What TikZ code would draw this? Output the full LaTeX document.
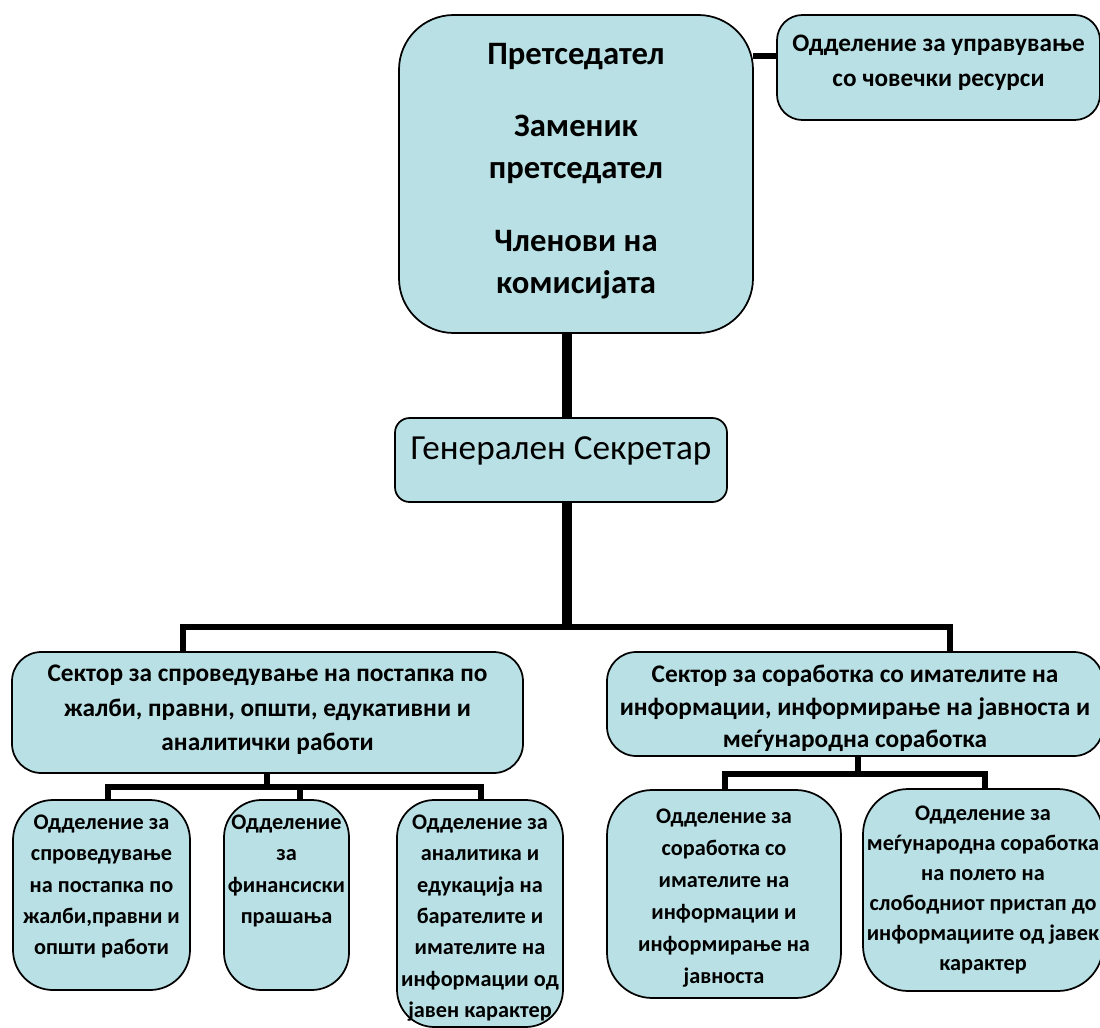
\documentclass[tikz,border=0pt]{standalone}
\usepackage{fontspec}
\setmainfont{Carlito}
\newlength\px \setlength\px{0.75pt}
\definecolor{boxfill}{HTML}{B9E0E4}
\newcommand\bxt[4]{\parbox[c][#2\px][t]{#1\px}{\centering\vspace*{#3\px}#4\par}}
\newcommand\fTop{\fontsize{24.5pt}{31.5pt}\selectfont\bfseries}
\newcommand\fHr{\fontsize{18.9pt}{26pt}\selectfont\bfseries}
\newcommand\fGs{\fontsize{26.4pt}{30pt}\selectfont}
\newcommand\fSec{\fontsize{19pt}{26pt}\selectfont\bfseries}
\newcommand\fSm{\fontsize{16.7pt}{23.5pt}\selectfont\bfseries}
\tikzset{
  box/.style={draw=black, line width=1.3pt, fill=boxfill, rounded corners=#1,
    inner sep=0pt, outer sep=0pt, anchor=north west, shape=rectangle},
  box/.default=15pt,
  trunk/.style={line width=7.5pt, draw=black},
  link/.style={line width=4.6pt, draw=black, line join=miter},
}
\begin{document}
\begin{tikzpicture}[x=0.75pt,y=-0.75pt]
\useasboundingbox (0,0) rectangle (1100,1028);
\fill[white] (0,0) rectangle (1100,1028);
\clip (0,0) rectangle (1100,1028);
% coordinates for connectors
\coordinate (tx) at (567,0);
\coordinate (hry) at (0,56);
\coordinate (busL) at (183,627);
\coordinate (busR) at (950,627);
\coordinate (lsub) at (267,787);
\coordinate (l1) at (108,787);
\coordinate (l2) at (300,787);
\coordinate (l3) at (481,787);
\coordinate (rsub) at (858,774);
\coordinate (r1) at (725,774);
\coordinate (r2) at (985,774);
% boxes
\node[box=41pt] (pres) at (399,15) {\bxt{354}{318}{28}{\fTop Претседател\\[23pt]Заменик\\претседател\\[23pt]Членови на\\комисијата}};
\node[box=19pt] (hr) at (777,15) {\bxt{323}{105}{20}{\fHr Одделение за управување\\со човечки ресурси}};
\node[box=11pt] (gs) at (395,418) {\bxt{332}{84}{19}{\fGs Генерален Секретар}};
\node[box=22pt] (secL) at (12,652) {\bxt{511}{121}{13}{\fSec Сектор за спроведување на постапка по\\жалби, правни, општи, едукативни и\\аналитички работи}};
\node[box=22pt] (secR) at (607,652) {\bxt{496}{104}{13}{\fSec\baselineskip=24.5pt Сектор за соработка со имателите на\\информации, информирање на јавноста и\\меѓународна соработка}};
\node[box=30pt] (b1) at (13,800) {\bxt{177}{190}{15}{\fSm Одделение за\\спроведување\\на постапка по\\жалби,правни и\\општи работи}};
\node[box=28pt] (b2) at (224,800) {\bxt{125}{190}{15}{\fSm Одделение\\за\\финансиски\\прашања}};
\node[box=28pt] (b3) at (397,800) {\bxt{166}{227}{15}{\fSm Одделение за\\аналитика и\\едукација на\\барателите и\\имателите на\\информации од\\јавен карактер}};
\node[box=34pt] (b4) at (607,790) {\bxt{234}{208}{19}{\fSm\baselineskip=24pt Одделение за\\соработка со\\имателите на\\информации и\\информирање на\\јавноста}};
\node[box=34pt] (b5) at (863,789) {\bxt{240}{202}{17}{\fSm\baselineskip=22.5pt Одделение за\\меѓународна соработка\\на полето на\\слободниот пристап до\\информациите од јавек\\карактер}};
% connectors
\draw[link] (pres.east |- hry) -- (hr.west |- hry);
\draw[trunk] (pres.south -| tx) -- (gs.north -| tx);
\draw[trunk] (gs.south -| tx) -- (tx |- busL);
\draw[link] (secL.north -| busL) -- (busL) -- (busR) -- (secR.north -| busR);
\draw[link] (secL.south -| lsub) -- (lsub);
\draw[link] (b1.north -| l1) -- (l1) -- (l3) -- (b3.north -| l3);
\draw[link] (l2) -- (b2.north -| l2);
\draw[link] (secR.south -| rsub) -- (rsub);
\draw[link] (b4.north -| r1) -- (r1) -- (r2) -- (b5.north -| r2);
\end{tikzpicture}
\end{document}
